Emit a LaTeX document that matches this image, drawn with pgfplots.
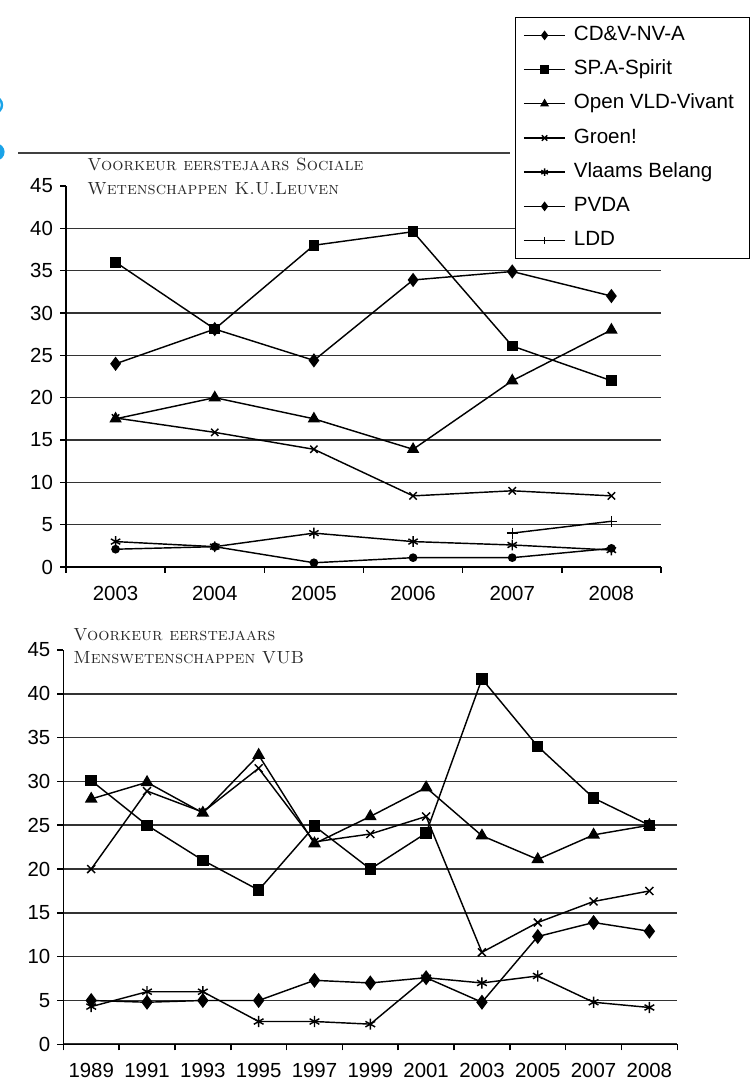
\documentclass[border=0pt]{standalone}
\usepackage{fontspec}
\usepackage{pgfplots}
\pgfplotsset{compat=1.18}
\newfontfamily\arial{Liberation Sans}
\definecolor{titlegray}{HTML}{2A2A2A}
\definecolor{pageblue}{HTML}{1AA3E8}

\pgfplotsset{
  mychart/.style={
    scale only axis,
    axis x line*=bottom, axis y line*=left,
    axis line style={line width=0.75pt, black},
    ymin=0, ymax=45,
    ytick={0,5,...,40}, extra y ticks={45}, extra y tick style={grid=none},
    ymajorgrids,
    major grid style={line width=0.8pt, black!80},
    tick align=outside,
    major tick length=3pt,
    minor tick length=3pt,
    tick style={line width=0.75pt, black},
    major x tick style={draw=none},
    /pgf/number format/assume math mode=true,
    tick label style={font=\arial\fontsize{10.2}{12}\selectfont},
    xticklabel style={yshift=-3pt},
    every axis plot/.append style={line width=0.72pt, black, mark options={solid, fill=black}},
    legend image code/.code={\draw[mark repeat=2,mark phase=2,#1, line width=0.7pt, mark size=1.9pt] plot coordinates {(0pt,0pt) (10.3pt,0pt) (20.6pt,0pt)};},
  }
}

\begin{document}
\begin{tikzpicture}
\useasboundingbox (0,0) rectangle (375.5pt,540pt);

% page decoration
\draw[line width=0.75pt, black!75] (9pt,463.5pt) -- (255pt,463.5pt);
\draw[pageblue, line width=1.2pt] (-3pt,487.5pt) circle (4pt);
\fill[pageblue] (-2pt,464pt) circle (4.3pt);

% ---------- top chart ----------
\begin{axis}[mychart,
  at={(33pt,256.5pt)}, anchor=south west,
  width=297.5pt, height=190.5pt,
  xmin=-0.5, xmax=5.5,
  xtick={0,...,5},
  xticklabels={2003,2004,2005,2006,2007,2008},
  minor xtick={-0.5,0.5,...,5.5},
  legend cell align=left,
  legend style={at={(0.7546,1.4444)}, anchor=north west, draw=black, fill=white,
    line width=0.7pt,
    font=\arial\fontsize{10.3}{12}\selectfont,
    row sep=2.1pt, inner xsep=3.8pt, inner ysep=1.5pt,
    nodes={inner xsep=4pt, inner ysep=2.5pt, text height=7.6pt, text depth=2.4pt}},
]
\addplot[mark=diamond*, mark size=3pt] coordinates {(0,24.0) (1,28.1) (2,24.4) (3,33.9) (4,34.9) (5,32.0)};
\addlegendentry{\makebox[75pt][l]{CD\&V-NV-A}}
\addplot[mark=square*, mark size=2.3pt] coordinates {(0,36.0) (1,28.1) (2,38.0) (3,39.6) (4,26.1) (5,22.0)};
\addlegendentry{SP.A-Spirit}
\addplot[mark=triangle*, mark size=2.9pt] coordinates {(0,17.5) (1,20.0) (2,17.5) (3,13.9) (4,22.0) (5,28.0)};
\addlegendentry{Open VLD-Vivant}
\addplot[mark=x, mark size=2.6pt] coordinates {(0,17.6) (1,15.9) (2,13.9) (3,8.4) (4,9.0) (5,8.4)};
\addlegendentry{Groen!}
\addplot[mark=asterisk, mark size=2.7pt] coordinates {(0,3.0) (1,2.4) (2,4.0) (3,3.0) (4,2.6) (5,2.0)};
\addlegendentry{Vlaams Belang}
\addplot[mark=*, mark size=1.8pt, legend image post style={mark=diamond*}] coordinates {(0,2.1) (1,2.4) (2,0.5) (3,1.1) (4,1.1) (5,2.2)};
\addlegendentry{PVDA}
\addplot[mark=+, mark size=2.7pt] coordinates {(4,4.0) (5,5.4)};
\addlegendentry{LDD}
\end{axis}
\node[anchor=base west, text=titlegray, font=\fontsize{8.8}{10}\selectfont, inner sep=0pt] at (43.5pt,454.7pt) {\textsc{Voorkeur eerstejaars Sociale}};
\node[anchor=base west, text=titlegray, font=\fontsize{8.8}{10}\selectfont, inner sep=0pt] at (43.5pt,442.5pt) {\textsc{Wetenschappen K.U.Leuven}};

% ---------- bottom chart ----------
\begin{axis}[mychart,
  at={(31.65pt,17.85pt)}, anchor=south west,
  width=307pt, height=197.15pt,
  xmin=-0.5, xmax=10.5,
  xtick={0,...,10},
  xticklabels={1989,1991,1993,1995,1997,1999,2001,2003,2005,2007,2008},
  minor xtick={-0.5,0.5,...,10.5},
]
\addplot[mark=square*, mark size=2.5pt] coordinates {(0,30.1) (1,25.0) (2,21.0) (3,17.6) (4,24.9) (5,20.0) (6,24.1) (7,41.7) (8,34.0) (9,28.1) (10,25.0)};
\addplot[mark=triangle*, mark size=3pt] coordinates {(0,28.0) (1,29.9) (2,26.4) (3,33.0) (4,22.9) (5,26.0) (6,29.3) (7,23.8) (8,21.1) (9,23.9) (10,25.0)};
\addplot[mark=x, mark size=2.8pt] coordinates {(0,20.0) (1,28.9) (2,26.5) (3,31.5) (4,23.1) (5,24.0) (6,26.0) (7,10.5) (8,13.9) (9,16.3) (10,17.5)};
\addplot[mark=diamond*, mark size=3.2pt] coordinates {(0,5.0) (1,4.8) (2,5.0) (3,5.0) (4,7.3) (5,7.0) (6,7.6) (7,4.8) (8,12.3) (9,13.9) (10,12.9)};
\addplot[mark=asterisk, mark size=2.8pt] coordinates {(0,4.3) (1,6.0) (2,6.0) (3,2.6) (4,2.6) (5,2.3) (6,7.6) (7,7.0) (8,7.8) (9,4.8) (10,4.2)};
\end{axis}
\node[anchor=base west, text=titlegray, font=\fontsize{8.8}{10}\selectfont, inner sep=0pt] at (36.5pt,219.7pt) {\textsc{Voorkeur eerstejaars}};
\node[anchor=base west, text=titlegray, font=\fontsize{8.8}{10}\selectfont, inner sep=0pt] at (36.5pt,208.3pt) {\textsc{Menswetenschappen VUB}};
\end{tikzpicture}
\end{document}
